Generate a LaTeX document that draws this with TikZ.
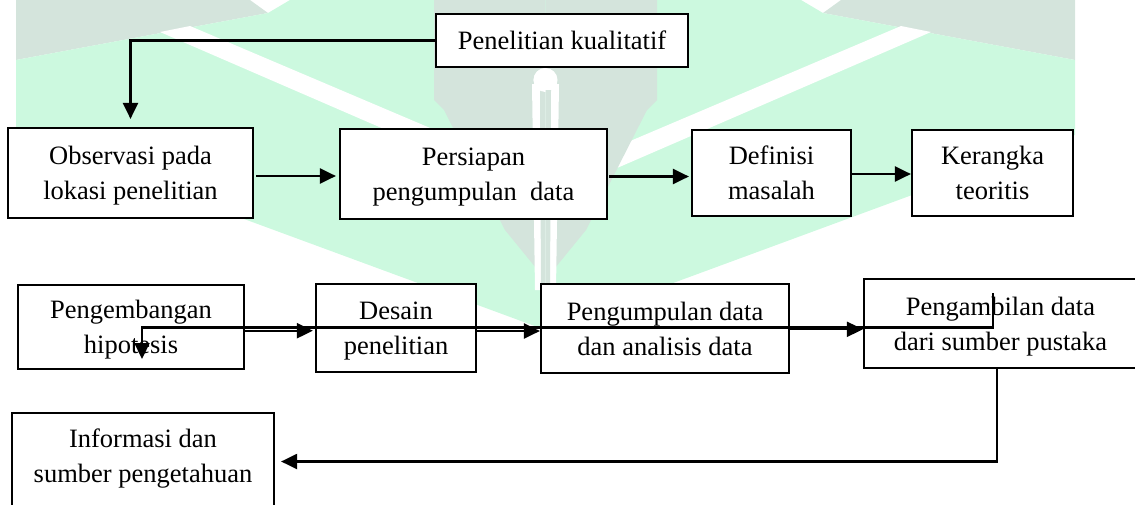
\documentclass[tikz,border=0pt]{standalone}
\usepackage{fontspec}
\setmainfont{Liberation Serif}
\usetikzlibrary{arrows.meta}
\definecolor{mint}{RGB}{204,249,223}
\definecolor{sage}{RGB}{212,228,220}
\newcommand{\sr}{\rule[-8pt]{0pt}{34pt}}
\newcommand{\srlow}{\rule[-40pt]{0pt}{66pt}}
\newcommand{\wmhalf}{%
  \fill[sage] (16,0) -- (250,0) -- (268,13) -- (16,60) -- cycle;
  \fill[mint] (16,60) -- (268,13) -- (290,0) -- (545.5,0) -- (545.5,330) -- (16,135) -- cycle;
  \fill[white] (160,32) -- (190,26) -- (545.5,177) -- (545.5,199) -- cycle;
  \fill[sage] (434,0) -- (545.5,0) -- (545.5,280) -- (536,268) -- (505,230) -- (444,110) -- (434,100) -- cycle;
  \fill[white] (532,84) -- (545.5,84) -- (545.5,290) -- (535,290) -- cycle;
  \fill[white] (545.5,80) circle[radius=12];
  \fill[sage] (540,90) -- (545.5,90) -- (545.5,290) -- (541,290) -- cycle;
}
\begin{document}
\begin{tikzpicture}[x=1pt,y=-1pt,
  box/.style={draw=black, line width=2.2pt, fill=white, inner sep=0pt,
    align=center, font=\fontsize{26.5}{35}\selectfont},
  arr/.style={draw=black, line width=2.2pt, -{Triangle[length=16pt,width=15pt]}}]
\useasboundingbox (0,0) rectangle (1135,504);
\begin{scope}
\clip (0,0) rectangle (1135,504);
% watermark
\wmhalf
\begin{scope}[shift={(1091,0)},xscale=-1]
\wmhalf
\end{scope}
% boxes
\node[box, minimum width=252pt, minimum height=53pt] (pk) at (562,40.5) {\sr Penelitian kualitatif};
\node[box, minimum width=245pt, minimum height=90pt] (obs) at (130.5,173) {\sr Observasi pada\\\sr lokasi penelitian};
\node[box, minimum width=267pt, minimum height=90pt] (per) at (473.5,174) {\sr Persiapan\\\sr pengumpulan~ data};
\node[box, minimum width=159pt, minimum height=86pt] (def) at (771.5,173) {\sr Definisi\\\sr masalah};
\node[box, minimum width=161pt, minimum height=86pt] (ker) at (992.5,173) {\sr Kerangka\\\sr teoritis};
\node[box, minimum width=226pt, minimum height=84pt] (pgb) at (131,327) {\sr Pengembangan\\\sr hipotesis};
\node[box, minimum width=160pt, minimum height=88pt] (des) at (396,328) {\sr Desain\\\sr penelitian};
\node[box, minimum width=248pt, minimum height=89pt] (pgd) at (665,328.5) {\sr Pengumpulan data\\\sr dan analisis data};
\node[box, minimum width=273pt, minimum height=89pt] (pam) at (1000.5,323.5) {\sr Pengambilan data\\\sr dari sumber pustaka};
\node[box, minimum width=262pt, minimum height=117pt] (inf) at (143,471.5) {\sr Informasi dan\\\srlow sumber pengetahuan};
% connectors
\draw[arr, shorten >=8pt] (pk.west) -| (obs.north);
\draw[arr, shorten <=2pt, shorten >=3pt] ([yshift=-3pt]obs.east) -- ([yshift=-3pt]obs.east -| per.west);
\draw[arr, shorten <=1pt, shorten >=2pt] ([yshift=-2.5pt]per.east) -- ([yshift=-2.5pt]per.east -| def.west);
\draw[arr] ([yshift=-1pt]def.east) -- ([yshift=-1pt]def.east -| ker.west);
\draw[arr, shorten >=2pt] ([yshift=-3.7pt]pgb.east) -- ([yshift=-3.7pt]pgb.east -| des.west);
\draw[arr] ([yshift=-3pt]des.east) -- ([yshift=-3pt]des.east -| pgd.west);
\draw[arr] ([yshift=-0.8pt]pgd.east) -- ([yshift=-0.8pt]pgd.east -| pam.west);
\coordinate (ls) at (993,293);
\coordinate (lm) at (993,327.5);
\coordinate (le) at (142,359);
\draw[arr] (ls) -- (lm) -| (le);
\draw[arr] ([xshift=-3.5pt]pam.south) |- ([xshift=6pt,yshift=10pt]inf.east);
\end{scope}
\end{tikzpicture}
\end{document}
